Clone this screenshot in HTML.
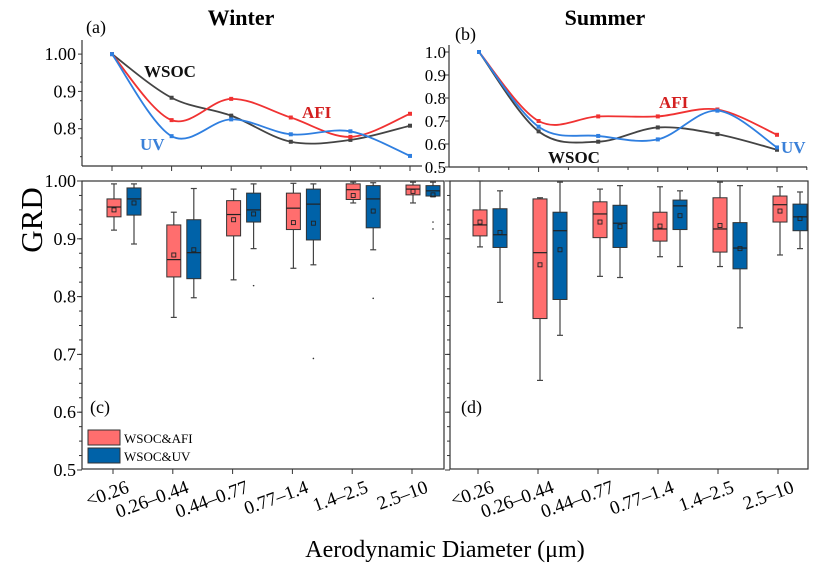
<!DOCTYPE html>
<html><head><meta charset="utf-8"><style>
body{margin:0;background:#fff}
svg{display:block;font-family:"Liberation Serif",serif}
</style></head><body>
<svg id="chart" width="819" height="568" viewBox="0 0 819 568" xmlns="http://www.w3.org/2000/svg">
<g id="g"></g>
</svg>
<script>
const categories=["<0.26","0.26–0.44","0.44–0.77","0.77–1.4","1.4–2.5","2.5–10"];
const winterWSOC=[1.00,0.883,0.835,0.765,0.770,0.808];
const winterAFI=[1.00,0.823,0.880,0.830,0.778,0.840];
const winterUV=[1.00,0.780,0.825,0.785,0.793,0.727];
const summerWSOC=[1.00,0.655,0.61,0.672,0.643,0.575];
const summerAFI=[1.00,0.70,0.72,0.72,0.75,0.64];
const summerUV=[1.00,0.675,0.635,0.62,0.745,0.585];
// box stats: [low, q1, median, q3, high, mean]
const winterBoxAFI=[[0.915,0.938,0.955,0.969,0.995,0.95],[0.764,0.834,0.864,0.924,0.946,0.872],[0.829,0.905,0.942,0.966,0.986,0.933],[0.849,0.916,0.953,0.979,0.996,0.928],[0.962,0.968,0.985,0.995,0.998,0.975],[0.962,0.976,0.986,0.993,0.998,0.982]];
const winterBoxUV=[[0.891,0.941,0.969,0.988,0.995,0.962],[0.798,0.831,0.876,0.933,0.987,0.881],[0.883,0.929,0.95,0.979,0.995,0.943],[0.855,0.898,0.96,0.986,0.995,0.927],[0.881,0.919,0.969,0.992,0.997,0.948],[0.973,0.974,0.983,0.992,0.998,0.976]];
const winterOutUV=[[2,0.819],[3,0.693],[4,0.797],[5,0.929],[5,0.917]];
const summerBoxAFI=[[0.886,0.905,0.924,0.95,1.0,0.929],[0.655,0.762,0.876,0.969,0.971,0.855],[0.835,0.902,0.943,0.964,0.986,0.929],[0.869,0.896,0.917,0.946,0.99,0.922],[0.852,0.877,0.917,0.971,0.998,0.923],[0.872,0.929,0.959,0.974,0.99,0.948]];
const summerBoxUV=[[0.79,0.885,0.907,0.952,0.983,0.911],[0.733,0.795,0.914,0.946,0.998,0.881],[0.833,0.885,0.927,0.958,0.992,0.921],[0.852,0.916,0.957,0.967,0.983,0.94],[0.746,0.848,0.884,0.928,0.992,0.883],[0.883,0.914,0.938,0.96,0.981,0.935]];
const topTicksW=["1.00","0.9","0.8"];
const topTicksS=["1.0","0.9","0.8","0.7","0.6","0.5"];
const botTicks=["1.00","0.9","0.8","0.7","0.6","0.5"];

const NS="http://www.w3.org/2000/svg";const G=document.getElementById('g');
function mk(t,a,p){const e=document.createElementNS(NS,t);for(const k in a)e.setAttribute(k,a[k]);(p||G).appendChild(e);return e;}
function txt(s,a,p){const e=mk('text',a,p);e.textContent=s;return e;}
const xTW=i=>112+59.6*i, yTW=v=>166-(v-0.7)*373;
const xTS=i=>479+59.6*i, yTS=v=>167-(v-0.5)*230;
const yB=v=>181+(1-v)*578;
const xBW=i=>113+59.8*i, xBS=i=>480+60*i;

function spline(pts){let d=`M${pts[0][0]},${pts[0][1]}`;for(let i=0;i<pts.length-1;i++){const p0=pts[Math.max(0,i-1)],p1=pts[i],p2=pts[i+1],p3=pts[Math.min(pts.length-1,i+2)];
const c1=[p1[0]+(p2[0]-p0[0])/6,p1[1]+(p2[1]-p0[1])/6],c2=[p2[0]-(p3[0]-p1[0])/6,p2[1]-(p3[1]-p1[1])/6];d+=` C${c1},${c2},${p2}`;}return d;}
function series(vals,xf,yf,col,name){const g=mk('g',{});
const pts=vals.map((v,i)=>[xf(i),yf(v)]);mk('path',{d:spline(pts),fill:'none',stroke:col,'stroke-width':1.8},g);
pts.forEach(p=>{mk('rect',{x:p[0]-2,y:p[1]-2,width:4,height:4,fill:col},g);});}

mk('line',{x1:82,y1:40,x2:82,y2:166,stroke:'#333','stroke-width':1.2});
mk('line',{x1:82,y1:166,x2:422,y2:166,stroke:'#333','stroke-width':1.2});
topTicksW.forEach((t,i)=>{const v=1-0.1*i;const y=yTW(v);mk('line',{x1:78,y1:y,x2:82,y2:y,stroke:'#333'});txt(t,{x:76,y:y+6,'text-anchor':'end','font-size':18});});
for(let v=0.725;v<1.02;v+=0.05){mk('line',{x1:80,y1:yTW(v),x2:82,y2:yTW(v),stroke:'#333'});}
categories.forEach((c,i)=>{mk('line',{x1:xTW(i),y1:166,x2:xTW(i),y2:171,stroke:'#333'});mk('line',{x1:xTW(i)+29.8,y1:166,x2:xTW(i)+29.8,y2:169,stroke:'#333'});});
series(winterWSOC,xTW,yTW,'#444','winter-wsoc-line');
series(winterAFI,xTW,yTW,'#f03232','winter-afi-line');
series(winterUV,xTW,yTW,'#2f7fe0','winter-uv-line');
txt('WSOC',{x:144,y:77,'font-size':17,'font-weight':'bold',fill:'#111'});
txt('AFI',{x:302,y:118,'font-size':17,'font-weight':'bold',fill:'#d42020'});
txt('UV',{x:140,y:150,'font-size':17,'font-weight':'bold',fill:'#3a80d8'});
txt('(a)',{x:86,y:33,'font-size':18});
txt('Winter',{x:241,y:25,'font-size':22,'font-weight':'bold','text-anchor':'middle'});

mk('line',{x1:449,y1:45,x2:449,y2:167,stroke:'#333','stroke-width':1.2});
mk('line',{x1:449,y1:167,x2:807,y2:167,stroke:'#333','stroke-width':1.2});
topTicksS.forEach((t,i)=>{const v=1-0.1*i;const y=yTS(v);mk('line',{x1:445,y1:y,x2:449,y2:y,stroke:'#333'});txt(t,{x:446,y:y+6,'text-anchor':'end','font-size':17});});
categories.forEach((c,i)=>{mk('line',{x1:xTS(i),y1:167,x2:xTS(i),y2:172,stroke:'#333'});mk('line',{x1:xTS(i)+29.8,y1:167,x2:xTS(i)+29.8,y2:170,stroke:'#333'});});
series(summerWSOC,xTS,yTS,'#444','summer-wsoc-line');
series(summerAFI,xTS,yTS,'#f03232','summer-afi-line');
series(summerUV,xTS,yTS,'#2f7fe0','summer-uv-line');
txt('WSOC',{x:548,y:163,'font-size':17,'font-weight':'bold',fill:'#111'});
txt('AFI',{x:659,y:108,'font-size':17,'font-weight':'bold',fill:'#d42020'});
txt('UV',{x:781,y:153,'font-size':17,'font-weight':'bold',fill:'#3a80d8'});
txt('(b)',{x:455,y:40,'font-size':18});
txt('Summer',{x:605,y:25,'font-size':22,'font-weight':'bold','text-anchor':'middle'});

mk('rect',{x:82,y:181,width:362,height:288,fill:'none',stroke:'#333','stroke-width':1.2});
mk('rect',{x:450,y:181,width:358,height:288,fill:'none',stroke:'#333','stroke-width':1.2});
botTicks.forEach((t,i)=>{const v=1-0.1*i;const y=yB(v);mk('line',{x1:77,y1:y,x2:82,y2:y,stroke:'#333'});mk('line',{x1:445,y1:y,x2:450,y2:y,stroke:'#333'});txt(t,{x:76,y:y+6,'text-anchor':'end','font-size':18});});
for(let k=0;k<20;k++){const y=yB(0.5+0.025*k);mk('line',{x1:79,y1:y,x2:82,y2:y,stroke:'#333'});mk('line',{x1:447,y1:y,x2:450,y2:y,stroke:'#333'});}
categories.forEach((c,i)=>{
 [[xBW(i),'w'],[xBS(i)-2,'s']].forEach(([x,s])=>{mk('line',{x1:x,y1:469,x2:x,y2:474,stroke:'#333'});
 const t=txt(c,{x:x+17,y:492,'text-anchor':'end','font-size':19,transform:`rotate(-20 ${x+17} 492)`});});
});
function box(st,cx,col,name){const g=mk('g',{});
const [lo,q1,md,q3,hi,mn]=st;const w=14;
mk('line',{x1:cx,y1:yB(hi),x2:cx,y2:yB(lo),stroke:'#444','stroke-width':1.2},g);
mk('line',{x1:cx-3,y1:yB(hi),x2:cx+3,y2:yB(hi),stroke:'#444','stroke-width':1.2},g);
mk('line',{x1:cx-3,y1:yB(lo),x2:cx+3,y2:yB(lo),stroke:'#444','stroke-width':1.2},g);
mk('rect',{x:cx-w/2,y:yB(q3),width:w,height:yB(q1)-yB(q3),fill:col,stroke:'#333','stroke-width':1},g);
mk('line',{x1:cx-w/2,y1:yB(md),x2:cx+w/2,y2:yB(md),stroke:'#222','stroke-width':1.2},g);
mk('rect',{x:cx-2,y:yB(mn)-2,width:4,height:4,fill:'none',stroke:'#222','stroke-width':0.9},g);}
const RED='#ff6e6e',BLUE='#0062a8';
categories.forEach((c,i)=>{
 box(winterBoxAFI[i],xBW(i)+1,RED,'winter-afi-box');box(winterBoxUV[i],xBW(i)+21,BLUE,'winter-uv-box');
 box(summerBoxAFI[i],xBS(i),RED,'summer-afi-box');box(summerBoxUV[i],xBS(i)+20,BLUE,'summer-uv-box');});
winterOutUV.forEach(o=>{mk('circle',{cx:xBW(o[0])+21,cy:yB(o[1]),r:0.8,fill:'#333'});});
txt('(c)',{x:90,y:413,'font-size':18});txt('(d)',{x:461,y:413,'font-size':18});
const lg=mk('g',{});
mk('rect',{x:88,y:430,width:32,height:15,fill:RED,stroke:'#333'},lg);txt('WSOC&AFI',{x:124,y:443,'font-size':13},lg);
mk('rect',{x:88,y:448,width:32,height:15,fill:BLUE,stroke:'#333'},lg);txt('WSOC&UV',{x:124,y:461,'font-size':13},lg);
const gy=txt('GRD',{x:42,y:220,'font-size':31,'text-anchor':'middle',transform:'rotate(-90 42 220)'});
const gx=txt('Aerodynamic Diameter (μm)',{x:445,y:557,'font-size':24,'text-anchor':'middle'});
</script>
</body></html>
